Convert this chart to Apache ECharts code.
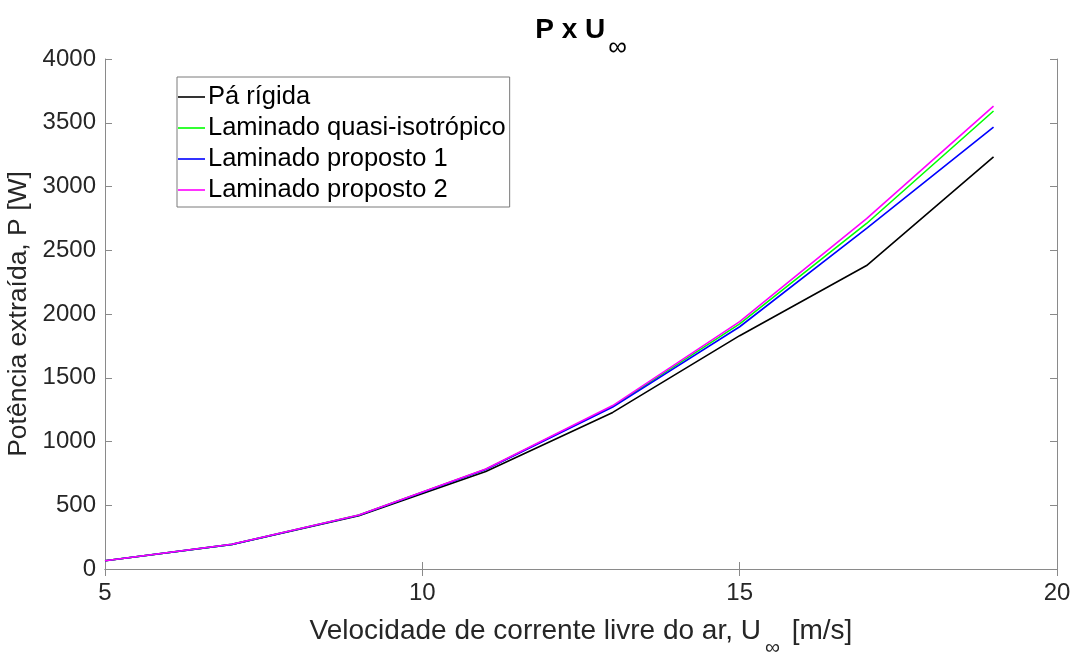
<!DOCTYPE html>
<html>
<head>
<meta charset="utf-8">
<script src="https://cdn.jsdelivr.net/npm/echarts@6/dist/echarts.min.js"></script>
<style>
  html, body { margin: 0; padding: 0; background: #fff; }
  #chart { width: 1078px; height: 653px; }
</style>
</head>
<body>
<div id="chart"></div>
<script>
// Free-stream velocity (m/s)
const velocity = [5, 7, 9, 11, 13, 15, 17, 19];

// Extracted power (W) for each blade configuration
const rigidBlade      = [65, 192, 418, 765, 1228, 1830, 2380, 3232];
const quasiIsotropic  = [65, 193, 423, 782, 1276, 1922, 2710, 3592];
const proposed1       = [65, 193, 422, 780, 1270, 1900, 2672, 3466];
const proposed2       = [65, 194, 424, 785, 1282, 1940, 2748, 3630];

const seriesNames = [
  'Pá rígida',
  'Laminado quasi-isotrópico',
  'Laminado proposto 1',
  'Laminado proposto 2'
];
const seriesValues = [rigidBlade, quasiIsotropic, proposed1, proposed2];
const seriesColors = ['#000000', '#00ff00', '#0000ff', '#ff00ff'];

const font = '"Liberation Sans", Arial, Helvetica, sans-serif';
const axisGray = '#8a8a8a';
const textGray = '#262626';

const chart = echarts.init(document.getElementById('chart'), null, { renderer: 'canvas' });

const series = seriesNames.map((name, i) => ({
  name: name,
  type: 'line',
  data: velocity.map((v, j) => [v, seriesValues[i][j]]),
  showSymbol: false,
  symbol: 'none',
  lineStyle: { color: seriesColors[i], width: 1.6 },
  itemStyle: { color: seriesColors[i] },
  animation: false,
  z: 2 + i
}));

// Shared styling for the four sides of the plot box (ticks point inward)
const boxAxisCommon = {
  axisLine: { show: true, lineStyle: { color: axisGray, width: 1 } },
  axisTick: { show: true, inside: true, length: 7, lineStyle: { color: axisGray } },
  splitLine: { show: false }
};

// Subscript tokens use a tall line box so their centre sits below the main text
chart.setOption({
  backgroundColor: '#ffffff',
  animation: false,
  textStyle: { fontFamily: font },
  title: {
    text: '{a|P x U}{s|∞}',
    left: 581,
    textAlign: 'center',
    top: 16,
    padding: 0,
    textStyle: {
      rich: {
        a: { fontFamily: font, fontSize: 28, fontWeight: 'bold', color: '#000', verticalAlign: 'top', lineHeight: 32 },
        s: { fontFamily: font, fontSize: 26, fontWeight: 'normal', color: '#000', lineHeight: 64, padding: [0, 0, 0, 3] }
      }
    }
  },
  legend: {
    orient: 'vertical',
    left: 177,
    top: 77,
    data: seriesNames,
    icon: 'rect',
    itemWidth: 27,
    itemHeight: 1.6,
    itemGap: 5,
    padding: [7, 4, 4, 1],
    borderColor: '#7a7a7a',
    borderWidth: 1,
    backgroundColor: '#ffffff',
    textStyle: { fontFamily: font, fontSize: 25.5, color: '#000', padding: [0, 0, 0, -2] }
  },
  grid: { left: 105, right: 21, top: 59, bottom: 84, containLabel: false, outerBoundsMode: 'none' },
  xAxis: [
    Object.assign({
      type: 'value',
      min: 5,
      max: 20,
      interval: 5,
      position: 'bottom',
      name: '{t|Velocidade de corrente livre do ar, U}{s|∞}{t| [m/s]}',
      nameLocation: 'middle',
      nameGap: 48,
      nameTextStyle: {
        rich: {
          t: { fontFamily: font, fontSize: 28, color: textGray, verticalAlign: 'top', lineHeight: 30 },
          s: { fontFamily: font, fontSize: 21, color: textGray, lineHeight: 62, padding: [0, 4, 0, 4] }
        }
      },
      axisLabel: { fontFamily: font, fontSize: 24, color: textGray, margin: 12 }
    }, boxAxisCommon),
    Object.assign({
      type: 'value',
      min: 5,
      max: 20,
      interval: 5,
      position: 'top',
      axisLabel: { show: false }
    }, boxAxisCommon)
  ],
  yAxis: [
    Object.assign({
      type: 'value',
      min: 0,
      max: 4000,
      interval: 500,
      position: 'left',
      name: 'Potência extraída, P [W]',
      nameLocation: 'middle',
      nameGap: 73,
      nameTextStyle: { fontFamily: font, fontSize: 26.5, color: textGray },
      axisLabel: { fontFamily: font, fontSize: 24, color: textGray, margin: 9, formatter: (v) => String(v) }
    }, boxAxisCommon),
    Object.assign({
      type: 'value',
      min: 0,
      max: 4000,
      interval: 500,
      position: 'right',
      axisLabel: { show: false }
    }, boxAxisCommon)
  ],
  series: series
});
</script>
</body>
</html>
